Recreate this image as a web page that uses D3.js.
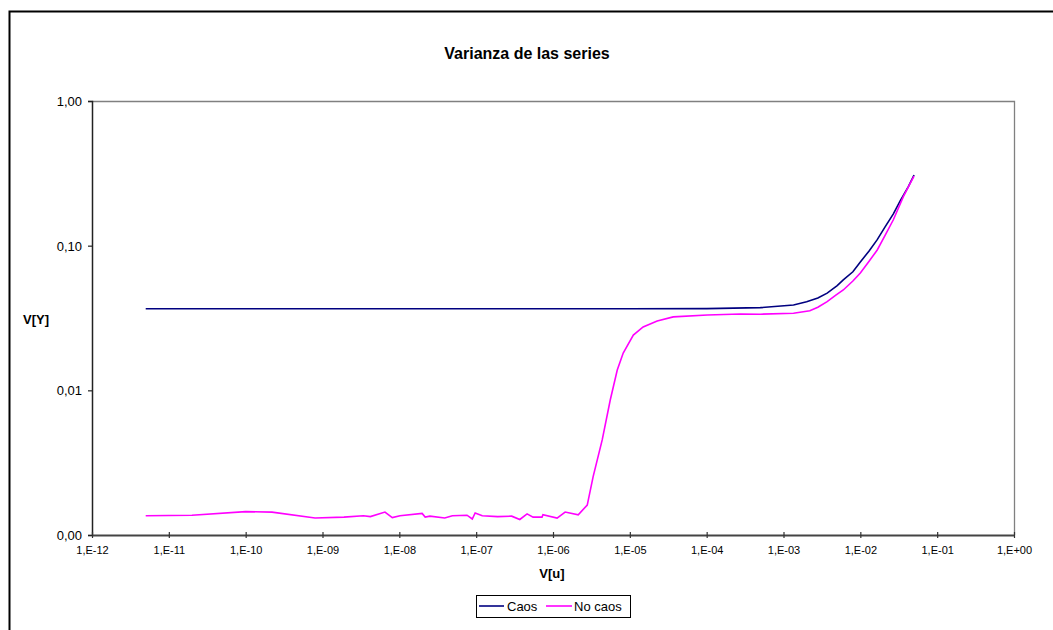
<!DOCTYPE html>
<html>
<head>
<meta charset="utf-8">
<script src="https://cdn.jsdelivr.net/npm/d3@7"></script>
<style>
  body { margin: 0; background: #fff; }
  svg { display: block; font-family: Arial, "Liberation Sans", sans-serif; }
</style>
</head>
<body>
<svg id="chart" width="1053" height="630"></svg>
<script>
// Variance of the series V[Y] against input variance V[u]
const caosX = [5e-12, 1e-11, 1e-10, 1e-9, 1e-8, 1e-7, 1e-6, 1e-5, 1e-4, 5e-4, 1.35e-3, 2e-3, 2.8e-3, 3.7e-3, 5e-3, 6e-3, 8e-3, 1e-2, 1.3e-2, 1.66e-2, 2.1e-2, 2.69e-2, 3.3e-2, 4.2e-2, 5e-2];
const caosY = [0.0366, 0.0366, 0.0366, 0.0366, 0.0366, 0.0366, 0.0366, 0.0366, 0.0367, 0.0373, 0.0389, 0.041, 0.0435, 0.047, 0.053, 0.058, 0.066, 0.077, 0.092, 0.11, 0.135, 0.166, 0.204, 0.255, 0.308];

const noCaosX = [5e-12, 2e-11, 1e-10, 2.2e-10, 8e-10, 1.9e-9, 3.4e-9, 4.2e-9, 6.5e-9, 8.1e-9, 1.02e-8, 1.98e-8, 2.17e-8, 2.5e-8, 3.9e-8, 4.9e-8, 7.6e-8, 8.9e-8, 9.7e-8, 1.2e-7, 1.9e-7, 2.9e-7, 3.7e-7, 4.6e-7, 5.5e-7, 7.2e-7, 7.4e-7, 1.13e-6, 1.44e-6, 2.13e-6, 2.79e-6, 3.33e-6, 4.37e-6, 5.56e-6, 6.86e-6, 8.2e-6, 1.11e-5, 1.49e-5, 2.27e-5, 3.67e-5, 1.02e-4, 2.75e-4, 5e-4, 1.35e-3, 2.2e-3, 2.8e-3, 3.7e-3, 4.8e-3, 6e-3, 8e-3, 1e-2, 1.3e-2, 1.66e-2, 2.1e-2, 2.69e-2, 3.63e-2, 4.3e-2, 5e-2];
const noCaosY = [0.00136, 0.00137, 0.00145, 0.00144, 0.00131, 0.00133, 0.00136, 0.00134, 0.00144, 0.00132, 0.00136, 0.00141, 0.00133, 0.00135, 0.00131, 0.00136, 0.00137, 0.00129, 0.00142, 0.00136, 0.00134, 0.00135, 0.00128, 0.00140, 0.00133, 0.00133, 0.00138, 0.00131, 0.00144, 0.00138, 0.00161, 0.00253, 0.00454, 0.00857, 0.0138, 0.0181, 0.0241, 0.0274, 0.0302, 0.0322, 0.0332, 0.0337, 0.0336, 0.0341, 0.0355, 0.0375, 0.041, 0.0455, 0.0494, 0.057, 0.0648, 0.078, 0.0934, 0.118, 0.151, 0.218, 0.26, 0.303];

const xTickValues = [1e-12, 1e-11, 1e-10, 1e-9, 1e-8, 1e-7, 1e-6, 1e-5, 1e-4, 1e-3, 1e-2, 1e-1, 1e0];
const xTickLabels = ["1,E-12", "1,E-11", "1,E-10", "1,E-09", "1,E-08", "1,E-07", "1,E-06", "1,E-05", "1,E-04", "1,E-03", "1,E-02", "1,E-01", "1,E+00"];
const yTickValues = [0.001, 0.01, 0.1, 1];
const yTickLabels = ["0,00", "0,01", "0,10", "1,00"];

const seriesNames = ["Caos", "No caos"];
const seriesColors = ["#000080", "#FF00FF"];

const svg = d3.select("#chart");
const plot = { left: 92, right: 1014, top: 101, bottom: 535 };

const x = d3.scaleLog().domain([1e-12, 1]).range([plot.left, plot.right]);
const y = d3.scaleLog().domain([0.001, 1]).range([plot.bottom, plot.top]);

// outer chart frame
svg.append("rect")
  .attr("x", 9.5).attr("y", 11.5)
  .attr("width", 1060).attr("height", 640)
  .attr("fill", "none").attr("stroke", "#000").attr("stroke-width", 2);

// plot area border (top and right)
svg.append("path")
  .attr("d", `M${plot.left},${plot.top + 0.5}H${plot.right + 0.5}V${plot.bottom}`)
  .attr("fill", "none").attr("stroke", "#808080").attr("stroke-width", 1.3);

// title
svg.append("text")
  .attr("x", 527).attr("y", 59)
  .attr("text-anchor", "middle")
  .attr("font-size", 16).attr("font-weight", "bold")
  .text("Varianza de las series");

// y axis
const yAxis = d3.axisLeft(y)
  .tickValues(yTickValues)
  .tickSize(4)
  .tickPadding(6)
  .tickFormat((d, i) => yTickLabels[i]);
const gy = svg.append("g").attr("transform", `translate(${plot.left},0)`).call(yAxis);
gy.select(".domain").attr("stroke", "#222").attr("stroke-width", 1.5);
gy.selectAll(".tick line").attr("stroke", "#222").attr("stroke-width", 1.2);
gy.selectAll(".tick text").attr("font-size", 13).attr("fill", "#000")
  .attr("font-family", "Arial, 'Liberation Sans', sans-serif").attr("dy", "0.35em");

// x axis
const xAxis = d3.axisBottom(x)
  .tickValues(xTickValues)
  .tickSizeInner(3)
  .tickSizeOuter(0)
  .tickPadding(8)
  .tickFormat((d, i) => xTickLabels[i]);
const gx = svg.append("g").attr("transform", `translate(0,${plot.bottom})`).call(xAxis);
gx.select(".domain").attr("stroke", "#444").attr("stroke-width", 2.2);
gx.selectAll(".tick line").attr("y1", -3).attr("stroke", "#333").attr("stroke-width", 1.2);
gx.selectAll(".tick text").attr("font-size", 11).attr("fill", "#000")
  .attr("font-family", "Arial, 'Liberation Sans', sans-serif");

// axis titles
svg.append("text")
  .attr("x", 49).attr("y", 324)
  .attr("text-anchor", "end")
  .attr("font-size", 13).attr("font-weight", "bold")
  .text("V[Y]");
svg.append("text")
  .attr("x", 552).attr("y", 578)
  .attr("text-anchor", "middle")
  .attr("font-size", 13).attr("font-weight", "bold")
  .text("V[u]");

// series lines
const line = d3.line().x(d => x(d[0])).y(d => y(d[1]));
const caosData = caosX.map((v, i) => [v, caosY[i]]);
const noCaosData = noCaosX.map((v, i) => [v, noCaosY[i]]);

svg.append("path").datum(caosData)
  .attr("d", line).attr("fill", "none")
  .attr("stroke", seriesColors[0]).attr("stroke-width", 1.6);
svg.append("path").datum(noCaosData)
  .attr("d", line).attr("fill", "none")
  .attr("stroke", seriesColors[1]).attr("stroke-width", 1.6);

// legend
const legend = svg.append("g");
legend.append("rect")
  .attr("x", 476.5).attr("y", 595.5).attr("width", 154).attr("height", 22)
  .attr("fill", "#fff").attr("stroke", "#000").attr("stroke-width", 1);
const legendItems = [
  { x1: 479, x2: 504, tx: 507 },
  { x1: 546, x2: 572, tx: 574 }
];
legendItems.forEach((it, i) => {
  legend.append("line")
    .attr("x1", it.x1).attr("x2", it.x2).attr("y1", 606).attr("y2", 606)
    .attr("stroke", seriesColors[i]).attr("stroke-width", 1.6);
  legend.append("text")
    .attr("x", it.tx).attr("y", 611)
    .attr("font-size", 13)
    .text(seriesNames[i]);
});
</script>
</body>
</html>
